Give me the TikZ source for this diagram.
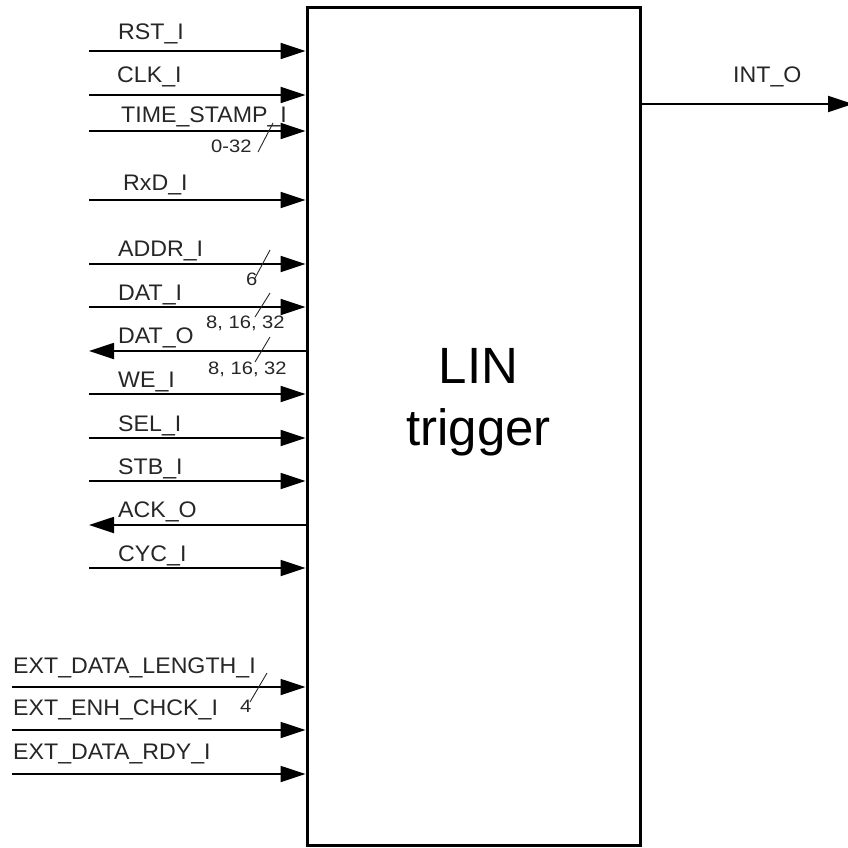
\documentclass[tikz,border=0pt]{standalone}
\usepackage{fontspec}
\setmainfont{Liberation Sans}
\newfontfamily\labfont[FakeStretch=1.03]{Liberation Sans}
\newfontfamily\smfont[FakeStretch=1.12]{Liberation Sans}
\usetikzlibrary{arrows.meta}
\begin{document}
\begin{tikzpicture}[x=1pt,y=-1pt,
  sig/.style={line width=1.8pt},
  inarr/.style={sig,-{Triangle[length=25pt,width=16pt]}},
  outarr/.style={sig,{Triangle[length=25pt,width=16pt]}-},
  lab/.style={anchor=base west,inner sep=0pt,font=\labfont\fontsize{22.5}{22.5}\selectfont,text=black!85},
  sml/.style={anchor=base west,inner sep=0pt,font=\smfont\fontsize{18}{18}\selectfont,text=black!85},
  title/.style={anchor=base,inner sep=0pt,font=\fontsize{51}{51}\selectfont},
  busmark/.style={line width=0.9pt,black!85}]
\useasboundingbox (0,0) rectangle (848,848);
\node[draw,line width=3pt,minimum width=333pt,minimum height=837pt,inner sep=0pt] (box) at (473.5,426.5) {};
\node[title] (t1) at (478.5,383) {LIN};
\node[title] (t2) at (478.5,445) {trigger};
% input starts
\foreach \n/\y in {rst/51,clk/95,ts/131,rxd/200,addr/264,dati/307,we/394,sel/438,stb/481,cyc/568}{
  \coordinate (\n) at (89,\y);
  \draw[inarr] (\n) -- (box.west |- \n);
}
\foreach \n/\y in {datao/351,ack/525}{
  \coordinate (\n) at (89,\y);
  \draw[outarr] (\n) -- (box.west |- \n);
}
\foreach \n/\y in {el/687,ee/730,er/774}{
  \coordinate (\n) at (12,\y);
  \draw[inarr] (\n) -- (box.west |- \n);
}
\coordinate (into) at (853,104);
\draw[inarr] (box.east |- into) -- (into);
% labels
\node[lab] (lrst) at (118,40) {RST\_I};
\node[lab] (lclk) at (117,83) {CLK\_I};
\node[lab] (lts) at (121,122) {TIME\_STAMP\_I};
\node[lab] (lrxd) at (123,190) {RxD\_I};
\node[lab] (laddr) at (118,256) {ADDR\_I};
\node[lab] (ldati) at (118,300) {DAT\_I};
\node[lab] (ldato) at (118,343) {DAT\_O};
\node[lab] (lwe) at (118,387) {WE\_I};
\node[lab] (lsel) at (118,431) {SEL\_I};
\node[lab] (lstb) at (118,474) {STB\_I};
\node[lab] (lack) at (118,517) {ACK\_O};
\node[lab] (lcyc) at (118,561) {CYC\_I};
\node[lab] (lel) at (13,673) {EXT\_DATA\_LENGTH\_I};
\node[lab] (lee) at (13,715) {EXT\_ENH\_CHCK\_I};
\node[lab] (ler) at (13,759) {EXT\_DATA\_RDY\_I};
\node[lab] (lint) at (733,83) {INT\_O};
% bus widths
\node[sml] (w1) at (211,152) {0-32};
\node[sml] (w2) at (246,285) {6};
\node[sml] (w3) at (206,328) {8, 16, 32};
\node[sml] (w4) at (208,374) {8, 16, 32};
\node[sml] (w5) at (240,712) {4};
\draw[busmark] (258,152) -- (273,123);
\draw[busmark] (255,278) -- (270,250);
\draw[busmark] (255,317) -- (270,293);
\draw[busmark] (255,362) -- (270,337);
\draw[busmark] (250,702) -- (267,673);
\end{tikzpicture}
\end{document}
